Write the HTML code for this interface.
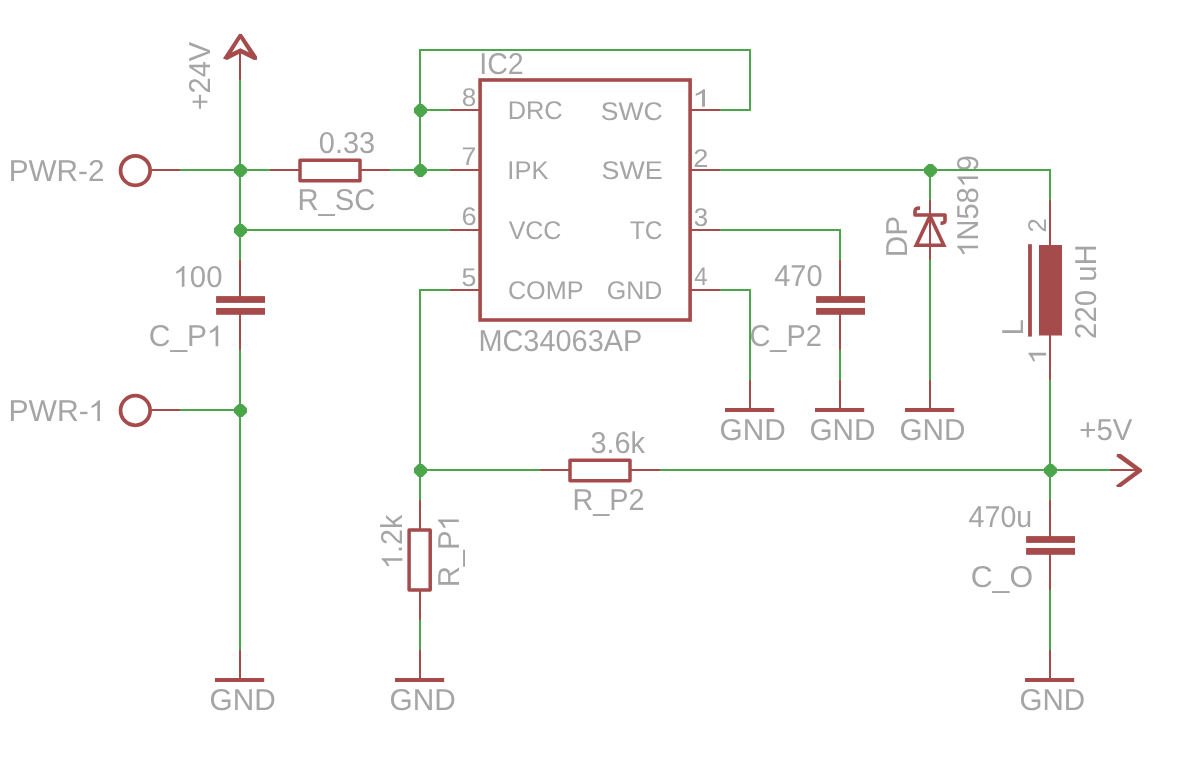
<!DOCTYPE html>
<html><head><meta charset="utf-8"><style>
html,body{margin:0;padding:0;background:#fff;width:1203px;height:771px;overflow:hidden}
svg{display:block;will-change:transform}
text{font-family:"Liberation Sans",sans-serif;fill:#A5A5A5;text-rendering:geometricPrecision}
</style></head><body>
<svg width="1203" height="771" viewBox="0 0 1203 771">
<rect width="1203" height="771" fill="#fff"/>
<text id="t_PWR_2" x="104.53" y="181.15" font-size="30.2" text-anchor="end" textLength="95.83" lengthAdjust="spacingAndGlyphs">PWR-2</text>
<text id="t_PWR_1" x="105.52" y="421.05" font-size="30.2" text-anchor="end" textLength="97.11" lengthAdjust="spacingAndGlyphs">PWR- </text>
<path d="M763,0 L583,0 L583,1147 Q518,1085 412,1023 Q306,961 193,911 L193,1085 Q356,1162 478,1270 Q600,1378 659,1466 L763,1466 Z" transform="translate(88.737 421.05) scale(0.01473 -0.01417)" fill="#A5A5A5"/>
<text id="t_0_33" x="375.21" y="152.68" font-size="30.2" text-anchor="end" textLength="56.38" lengthAdjust="spacingAndGlyphs">0.33</text>
<text id="t_R_SC" x="375.33" y="209.56" font-size="30.2" text-anchor="end" textLength="77.91" lengthAdjust="spacingAndGlyphs">R_SC</text>
<text id="t_IC2" x="479.24" y="73.70" font-size="30.2" text-anchor="start" textLength="44.50" lengthAdjust="spacingAndGlyphs">IC2</text>
<text id="t_MC" x="478.38" y="350.86" font-size="30.2" text-anchor="start" textLength="163.90" lengthAdjust="spacingAndGlyphs">MC34063AP</text>
<text id="t_DRC" x="507.67" y="118.77" font-size="25.6" text-anchor="start" textLength="55.05" lengthAdjust="spacingAndGlyphs">DRC</text>
<text id="t_IPK" x="507.37" y="179.11" font-size="25.6" text-anchor="start" textLength="41.08" lengthAdjust="spacingAndGlyphs">IPK</text>
<text id="t_VCC" x="508.64" y="238.89" font-size="25.6" text-anchor="start" textLength="52.78" lengthAdjust="spacingAndGlyphs">VCC</text>
<text id="t_COMP" x="507.90" y="299.04" font-size="25.6" text-anchor="start" textLength="75.56" lengthAdjust="spacingAndGlyphs">COMP</text>
<text id="t_SWC" x="662.80" y="119.70" font-size="25.6" text-anchor="end" textLength="61.99" lengthAdjust="spacingAndGlyphs">SWC</text>
<text id="t_SWE" x="662.58" y="179.35" font-size="25.6" text-anchor="end" textLength="61.08" lengthAdjust="spacingAndGlyphs">SWE</text>
<text id="t_TC" x="662.45" y="238.87" font-size="25.6" text-anchor="end" textLength="32.49" lengthAdjust="spacingAndGlyphs">TC</text>
<text id="t_GNDic" x="662.40" y="298.99" font-size="25.6" text-anchor="end" textLength="55.66" lengthAdjust="spacingAndGlyphs">GND</text>
<text id="t_p8" x="476.28" y="106.17" font-size="25.6" text-anchor="end" textLength="14.55" lengthAdjust="spacingAndGlyphs">8</text>
<text id="t_p7" x="476.36" y="165.49" font-size="25.6" text-anchor="end" textLength="14.80" lengthAdjust="spacingAndGlyphs">7</text>
<text id="t_p6" x="476.64" y="225.41" font-size="25.6" text-anchor="end" textLength="15.18" lengthAdjust="spacingAndGlyphs">6</text>
<text id="t_p5" x="476.55" y="285.93" font-size="25.6" text-anchor="end" textLength="14.93" lengthAdjust="spacingAndGlyphs">5</text>
<text id="t_p1" x="692.54" y="106.79" font-size="25.6" text-anchor="start" textLength="18.60" lengthAdjust="spacingAndGlyphs"> </text>
<path d="M763,0 L583,0 L583,1147 Q518,1085 412,1023 Q306,961 193,911 L193,1085 Q356,1162 478,1270 Q600,1378 659,1466 L763,1466 Z" transform="translate(692.540 106.79) scale(0.01633 -0.01201)" fill="#A5A5A5"/>
<text id="t_p2" x="693.39" y="166.79" font-size="25.6" text-anchor="start" textLength="15.14" lengthAdjust="spacingAndGlyphs">2</text>
<text id="t_p3" x="693.83" y="226.05" font-size="25.6" text-anchor="start" textLength="14.38" lengthAdjust="spacingAndGlyphs">3</text>
<text id="t_p4" x="694.31" y="285.47" font-size="25.6" text-anchor="start" textLength="13.27" lengthAdjust="spacingAndGlyphs">4</text>
<text id="t_G750" x="719.55" y="440.40" font-size="30.2" text-anchor="start" textLength="66.16" lengthAdjust="spacingAndGlyphs">GND</text>
<text id="t_G840" x="809.48" y="440.41" font-size="30.2" text-anchor="start" textLength="66.02" lengthAdjust="spacingAndGlyphs">GND</text>
<text id="t_G930" x="899.48" y="440.41" font-size="30.2" text-anchor="start" textLength="66.02" lengthAdjust="spacingAndGlyphs">GND</text>
<text id="t_G240" x="209.57" y="710.40" font-size="30.2" text-anchor="start" textLength="66.20" lengthAdjust="spacingAndGlyphs">GND</text>
<text id="t_G420" x="389.57" y="710.40" font-size="30.2" text-anchor="start" textLength="66.20" lengthAdjust="spacingAndGlyphs">GND</text>
<text id="t_G1050" x="1019.49" y="710.41" font-size="30.2" text-anchor="start" textLength="65.65" lengthAdjust="spacingAndGlyphs">GND</text>
<text id="t__5V" x="1079.30" y="439.99" font-size="30.2" text-anchor="start" textLength="53.05" lengthAdjust="spacingAndGlyphs">+5V</text>
<text id="t_100" x="222.47" y="286.77" font-size="30.2" text-anchor="end" textLength="49.00" lengthAdjust="spacingAndGlyphs"> 00</text>
<path d="M763,0 L583,0 L583,1147 Q518,1085 412,1023 Q306,961 193,911 L193,1085 Q356,1162 478,1270 Q600,1378 659,1466 L763,1466 Z" transform="translate(173.470 286.77) scale(0.01434 -0.01417)" fill="#A5A5A5"/>
<text id="t_C_P1" x="223.75" y="346.30" font-size="30.2" text-anchor="end" textLength="74.93" lengthAdjust="spacingAndGlyphs">C_P </text>
<path d="M763,0 L583,0 L583,1147 Q518,1085 412,1023 Q306,961 193,911 L193,1085 Q356,1162 478,1270 Q600,1378 659,1466 L763,1466 Z" transform="translate(207.083 346.30) scale(0.01463 -0.01417)" fill="#A5A5A5"/>
<text id="t_470" x="822.53" y="285.62" font-size="30.2" text-anchor="end" textLength="48.24" lengthAdjust="spacingAndGlyphs">470</text>
<text id="t_C_P2" x="821.91" y="346.28" font-size="30.2" text-anchor="end" textLength="72.47" lengthAdjust="spacingAndGlyphs">C_P2</text>
<text id="t_470u" x="1032.19" y="527.48" font-size="30.2" text-anchor="end" textLength="63.61" lengthAdjust="spacingAndGlyphs">470u</text>
<text id="t_C_O" x="1033.14" y="586.57" font-size="30.2" text-anchor="end" textLength="62.46" lengthAdjust="spacingAndGlyphs">C_O</text>
<text id="t_3_6k" x="644.95" y="453.39" font-size="30.2" text-anchor="end" textLength="54.55" lengthAdjust="spacingAndGlyphs">3.6k</text>
<text id="t_R_P2" x="644.47" y="509.74" font-size="30.2" text-anchor="end" textLength="71.95" lengthAdjust="spacingAndGlyphs">R_P2</text>
<text id="t_1_2k" x="402.42" y="568.81" font-size="30.2" text-anchor="start" transform="rotate(-90 402.42 568.81)" textLength="54.15" lengthAdjust="spacingAndGlyphs"> .2k</text>
<g transform="rotate(-90 402.42 568.81)"><path d="M763,0 L583,0 L583,1147 Q518,1085 412,1023 Q306,961 193,911 L193,1085 Q356,1162 478,1270 Q600,1378 659,1466 L763,1466 Z" transform="translate(402.420 568.81) scale(0.01399 -0.01417)" fill="#A5A5A5"/></g>
<text id="t_R_P1" x="458.79" y="587.33" font-size="30.2" text-anchor="start" transform="rotate(-90 458.79 587.33)" textLength="73.23" lengthAdjust="spacingAndGlyphs">R_P </text>
<g transform="rotate(-90 458.79 587.33)"><path d="M763,0 L583,0 L583,1147 Q518,1085 412,1023 Q306,961 193,911 L193,1085 Q356,1162 478,1270 Q600,1378 659,1466 L763,1466 Z" transform="translate(515.732 587.33) scale(0.01430 -0.01417)" fill="#A5A5A5"/></g>
<text id="t_DP" x="906.70" y="257.23" font-size="30.2" text-anchor="start" transform="rotate(-90 906.70 257.23)" textLength="41.12" lengthAdjust="spacingAndGlyphs">DP</text>
<text id="t_1N5819" x="978.05" y="256.62" font-size="30.2" text-anchor="start" transform="rotate(-90 978.05 256.62)" textLength="101.60" lengthAdjust="spacingAndGlyphs"> N58 9</text>
<g transform="rotate(-90 978.05 256.62)"><path d="M763,0 L583,0 L583,1147 Q518,1085 412,1023 Q306,961 193,911 L193,1085 Q356,1162 478,1270 Q600,1378 659,1466 L763,1466 Z" transform="translate(978.050 256.62) scale(0.01417 -0.01417)" fill="#A5A5A5"/></g>
<g transform="rotate(-90 978.05 256.62)"><path d="M763,0 L583,0 L583,1147 Q518,1085 412,1023 Q306,961 193,911 L193,1085 Q356,1162 478,1270 Q600,1378 659,1466 L763,1466 Z" transform="translate(1047.375 256.62) scale(0.01418 -0.01417)" fill="#A5A5A5"/></g>
<text id="t_L" x="1022.90" y="335.50" font-size="30.2" text-anchor="start" transform="rotate(-90 1022.90 335.50)" textLength="16.36" lengthAdjust="spacingAndGlyphs">L</text>
<text id="t_220uH" x="1095.83" y="338.93" font-size="30.2" text-anchor="start" transform="rotate(-90 1095.83 338.93)" textLength="94.63" lengthAdjust="spacingAndGlyphs">220 uH</text>
<text id="t_i2" x="1046.34" y="232.60" font-size="25.6" text-anchor="start" transform="rotate(-90 1046.34 232.60)" textLength="14.36" lengthAdjust="spacingAndGlyphs">2</text>
<text id="t_i1" x="1046.11" y="363.95" font-size="25.6" text-anchor="start" transform="rotate(-90 1046.11 363.95)" textLength="16.60" lengthAdjust="spacingAndGlyphs"> </text>
<g transform="rotate(-90 1046.11 363.95)"><path d="M763,0 L583,0 L583,1147 Q518,1085 412,1023 Q306,961 193,911 L193,1085 Q356,1162 478,1270 Q600,1378 659,1466 L763,1466 Z" transform="translate(1046.110 363.95) scale(0.01457 -0.01201)" fill="#A5A5A5"/></g>
<text id="t__24V" x="210.50" y="110.29" font-size="30.2" text-anchor="start" transform="rotate(-90 210.50 110.29)" textLength="68.45" lengthAdjust="spacingAndGlyphs">+24V</text>
<line x1="240" y1="80" x2="240" y2="260" stroke="#4BA54B" stroke-width="2.0" stroke-linecap="butt"/>
<line x1="240" y1="350" x2="240" y2="650" stroke="#4BA54B" stroke-width="2.0" stroke-linecap="butt"/>
<line x1="180" y1="170" x2="270" y2="170" stroke="#4BA54B" stroke-width="2.0" stroke-linecap="butt"/>
<line x1="390" y1="170" x2="450" y2="170" stroke="#4BA54B" stroke-width="2.0" stroke-linecap="butt"/>
<line x1="240" y1="230" x2="450" y2="230" stroke="#4BA54B" stroke-width="2.0" stroke-linecap="butt"/>
<line x1="180" y1="410" x2="240" y2="410" stroke="#4BA54B" stroke-width="2.0" stroke-linecap="butt"/>
<line x1="420" y1="49" x2="420" y2="170" stroke="#4BA54B" stroke-width="2.0" stroke-linecap="butt"/>
<line x1="419" y1="50" x2="751" y2="50" stroke="#4BA54B" stroke-width="2.0" stroke-linecap="butt"/>
<line x1="750" y1="49" x2="750" y2="111" stroke="#4BA54B" stroke-width="2.0" stroke-linecap="butt"/>
<line x1="720" y1="110" x2="751" y2="110" stroke="#4BA54B" stroke-width="2.0" stroke-linecap="butt"/>
<line x1="420" y1="110" x2="450" y2="110" stroke="#4BA54B" stroke-width="2.0" stroke-linecap="butt"/>
<line x1="419" y1="290" x2="450" y2="290" stroke="#4BA54B" stroke-width="2.0" stroke-linecap="butt"/>
<line x1="420" y1="289" x2="420" y2="500" stroke="#4BA54B" stroke-width="2.0" stroke-linecap="butt"/>
<line x1="420" y1="620" x2="420" y2="650" stroke="#4BA54B" stroke-width="2.0" stroke-linecap="butt"/>
<line x1="720" y1="230" x2="841" y2="230" stroke="#4BA54B" stroke-width="2.0" stroke-linecap="butt"/>
<line x1="840" y1="229" x2="840" y2="260" stroke="#4BA54B" stroke-width="2.0" stroke-linecap="butt"/>
<line x1="840" y1="350" x2="840" y2="380" stroke="#4BA54B" stroke-width="2.0" stroke-linecap="butt"/>
<line x1="720" y1="290" x2="751" y2="290" stroke="#4BA54B" stroke-width="2.0" stroke-linecap="butt"/>
<line x1="750" y1="289" x2="750" y2="380" stroke="#4BA54B" stroke-width="2.0" stroke-linecap="butt"/>
<line x1="720" y1="170" x2="1051" y2="170" stroke="#4BA54B" stroke-width="2.0" stroke-linecap="butt"/>
<line x1="1050" y1="169" x2="1050" y2="200" stroke="#4BA54B" stroke-width="2.0" stroke-linecap="butt"/>
<line x1="1050" y1="380" x2="1050" y2="500" stroke="#4BA54B" stroke-width="2.0" stroke-linecap="butt"/>
<line x1="1050" y1="590" x2="1050" y2="650" stroke="#4BA54B" stroke-width="2.0" stroke-linecap="butt"/>
<line x1="930" y1="170" x2="930" y2="200" stroke="#4BA54B" stroke-width="2.0" stroke-linecap="butt"/>
<line x1="930" y1="260" x2="930" y2="380" stroke="#4BA54B" stroke-width="2.0" stroke-linecap="butt"/>
<line x1="420" y1="470" x2="540" y2="470" stroke="#4BA54B" stroke-width="2.0" stroke-linecap="butt"/>
<line x1="660" y1="470" x2="1110" y2="470" stroke="#4BA54B" stroke-width="2.0" stroke-linecap="butt"/>
<line x1="240" y1="52" x2="240" y2="80" stroke="#A54B4B" stroke-width="2.0" stroke-linecap="butt"/>
<line x1="152" y1="170" x2="180" y2="170" stroke="#A54B4B" stroke-width="2.0" stroke-linecap="butt"/>
<line x1="270" y1="170" x2="300" y2="170" stroke="#A54B4B" stroke-width="2.0" stroke-linecap="butt"/>
<line x1="360" y1="170" x2="390" y2="170" stroke="#A54B4B" stroke-width="2.0" stroke-linecap="butt"/>
<line x1="450" y1="170" x2="480" y2="170" stroke="#A54B4B" stroke-width="2.0" stroke-linecap="butt"/>
<line x1="152" y1="410" x2="180" y2="410" stroke="#A54B4B" stroke-width="2.0" stroke-linecap="butt"/>
<line x1="450" y1="110" x2="480" y2="110" stroke="#A54B4B" stroke-width="2.0" stroke-linecap="butt"/>
<line x1="450" y1="230" x2="480" y2="230" stroke="#A54B4B" stroke-width="2.0" stroke-linecap="butt"/>
<line x1="450" y1="290" x2="480" y2="290" stroke="#A54B4B" stroke-width="2.0" stroke-linecap="butt"/>
<line x1="690" y1="110" x2="720" y2="110" stroke="#A54B4B" stroke-width="2.0" stroke-linecap="butt"/>
<line x1="690" y1="170" x2="720" y2="170" stroke="#A54B4B" stroke-width="2.0" stroke-linecap="butt"/>
<line x1="690" y1="230" x2="720" y2="230" stroke="#A54B4B" stroke-width="2.0" stroke-linecap="butt"/>
<line x1="690" y1="290" x2="720" y2="290" stroke="#A54B4B" stroke-width="2.0" stroke-linecap="butt"/>
<line x1="240" y1="260" x2="240" y2="297" stroke="#A54B4B" stroke-width="2.0" stroke-linecap="butt"/>
<line x1="240" y1="314" x2="240" y2="350" stroke="#A54B4B" stroke-width="2.0" stroke-linecap="butt"/>
<line x1="840" y1="260" x2="840" y2="297" stroke="#A54B4B" stroke-width="2.0" stroke-linecap="butt"/>
<line x1="840" y1="314" x2="840" y2="350" stroke="#A54B4B" stroke-width="2.0" stroke-linecap="butt"/>
<line x1="1050" y1="500" x2="1050" y2="537" stroke="#A54B4B" stroke-width="2.0" stroke-linecap="butt"/>
<line x1="1050" y1="554" x2="1050" y2="590" stroke="#A54B4B" stroke-width="2.0" stroke-linecap="butt"/>
<line x1="750" y1="380" x2="750" y2="410" stroke="#A54B4B" stroke-width="2.0" stroke-linecap="butt"/>
<line x1="840" y1="380" x2="840" y2="410" stroke="#A54B4B" stroke-width="2.0" stroke-linecap="butt"/>
<line x1="930" y1="380" x2="930" y2="410" stroke="#A54B4B" stroke-width="2.0" stroke-linecap="butt"/>
<line x1="240" y1="650" x2="240" y2="680" stroke="#A54B4B" stroke-width="2.0" stroke-linecap="butt"/>
<line x1="420" y1="650" x2="420" y2="680" stroke="#A54B4B" stroke-width="2.0" stroke-linecap="butt"/>
<line x1="1050" y1="650" x2="1050" y2="680" stroke="#A54B4B" stroke-width="2.0" stroke-linecap="butt"/>
<line x1="420" y1="500" x2="420" y2="530" stroke="#A54B4B" stroke-width="2.0" stroke-linecap="butt"/>
<line x1="420" y1="590" x2="420" y2="620" stroke="#A54B4B" stroke-width="2.0" stroke-linecap="butt"/>
<line x1="540" y1="470" x2="570" y2="470" stroke="#A54B4B" stroke-width="2.0" stroke-linecap="butt"/>
<line x1="630" y1="470" x2="660" y2="470" stroke="#A54B4B" stroke-width="2.0" stroke-linecap="butt"/>
<line x1="930" y1="200" x2="930" y2="260" stroke="#A54B4B" stroke-width="2.0" stroke-linecap="butt"/>
<line x1="1050" y1="200" x2="1050" y2="245" stroke="#A54B4B" stroke-width="2.0" stroke-linecap="butt"/>
<line x1="1050" y1="335" x2="1050" y2="380" stroke="#A54B4B" stroke-width="2.0" stroke-linecap="butt"/>
<line x1="1110" y1="470" x2="1136" y2="470" stroke="#A54B4B" stroke-width="2.0" stroke-linecap="butt"/>
<rect x="480.1" y="80" width="210" height="240" fill="none" stroke="#A54B4B" stroke-width="3.6" stroke-linejoin="miter"/>
<rect x="300" y="160.3" width="60" height="20.5" fill="none" stroke="#A54B4B" stroke-width="3.5" stroke-linejoin="round"/>
<rect x="570" y="460.3" width="60" height="20.5" fill="none" stroke="#A54B4B" stroke-width="3.5" stroke-linejoin="round"/>
<rect x="409.1" y="530" width="21.1" height="60" fill="none" stroke="#A54B4B" stroke-width="3.5" stroke-linejoin="round"/>
<rect x="216.1" y="296.1" width="48.9" height="6.8" fill="#A54B4B"/>
<rect x="216.1" y="308.0" width="48.9" height="6.8" fill="#A54B4B"/>
<rect x="816.1" y="296.1" width="48.9" height="6.8" fill="#A54B4B"/>
<rect x="816.1" y="308.0" width="48.9" height="6.8" fill="#A54B4B"/>
<rect x="1026.1" y="536.1" width="48.9" height="6.8" fill="#A54B4B"/>
<rect x="1026.1" y="548.0" width="48.9" height="6.8" fill="#A54B4B"/>
<line x1="725" y1="410" x2="774.2" y2="410" stroke="#A54B4B" stroke-width="3.8" stroke-linecap="butt"/>
<line x1="815" y1="410" x2="864.2" y2="410" stroke="#A54B4B" stroke-width="3.8" stroke-linecap="butt"/>
<line x1="905" y1="410" x2="954.2" y2="410" stroke="#A54B4B" stroke-width="3.8" stroke-linecap="butt"/>
<line x1="215" y1="680" x2="264.2" y2="680" stroke="#A54B4B" stroke-width="3.8" stroke-linecap="butt"/>
<line x1="395" y1="680" x2="444.2" y2="680" stroke="#A54B4B" stroke-width="3.8" stroke-linecap="butt"/>
<line x1="1025" y1="680" x2="1074.2" y2="680" stroke="#A54B4B" stroke-width="3.8" stroke-linecap="butt"/>
<circle cx="135.35" cy="170.55" r="14.8" fill="none" stroke="#A54B4B" stroke-width="3.75"/>
<circle cx="135.35" cy="410.45" r="14.8" fill="none" stroke="#A54B4B" stroke-width="3.75"/>
<polygon points="916.2,245.3 943.8,245.3 930,216" fill="none" stroke="#A54B4B" stroke-width="3.6" stroke-linejoin="miter" stroke-miterlimit="3"/>
<path d="M920,208.2 Q915.2,207.6 915,211 L915,215 L945,215 L945,221 Q945,223.3 940.5,223.2" fill="none" stroke="#A54B4B" stroke-width="3.6" stroke-linejoin="round"/>
<rect x="1039" y="245" width="23" height="90.5" fill="#A54B4B"/>
<line x1="1030" y1="244.2" x2="1030" y2="336.6" stroke="#A54B4B" stroke-width="3.8" stroke-linecap="butt"/>
<path d="M239,34 L241.8,34 L257,56.5 L257,59.7 L254,60 L240.4,53.2 L227,60 L223,58.6 Z M240.4,38.9 L232,52.2 L240.4,48.2 L248.8,52.2 Z" fill="#A54B4B" fill-rule="evenodd"/>
<path d="M1117,454 L1121,454 L1142,469.5 L1142,471.5 L1121,487 L1117,487 L1116,485.5 L1136,470.5 L1116.5,456.5 Z" fill="#A54B4B"/>
<polygon points="238.35,163.90 242.55,163.90 246.95,168.30 246.95,172.50 242.55,176.90 238.35,176.90 233.95,172.50 233.95,168.30" fill="#4BA54B"/>
<polygon points="238.35,223.90 242.55,223.90 246.95,228.30 246.95,232.50 242.55,236.90 238.35,236.90 233.95,232.50 233.95,228.30" fill="#4BA54B"/>
<polygon points="238.35,403.90 242.55,403.90 246.95,408.30 246.95,412.50 242.55,416.90 238.35,416.90 233.95,412.50 233.95,408.30" fill="#4BA54B"/>
<polygon points="418.35,103.90 422.55,103.90 426.95,108.30 426.95,112.50 422.55,116.90 418.35,116.90 413.95,112.50 413.95,108.30" fill="#4BA54B"/>
<polygon points="418.35,163.90 422.55,163.90 426.95,168.30 426.95,172.50 422.55,176.90 418.35,176.90 413.95,172.50 413.95,168.30" fill="#4BA54B"/>
<polygon points="418.35,463.90 422.55,463.90 426.95,468.30 426.95,472.50 422.55,476.90 418.35,476.90 413.95,472.50 413.95,468.30" fill="#4BA54B"/>
<polygon points="928.35,163.90 932.55,163.90 936.95,168.30 936.95,172.50 932.55,176.90 928.35,176.90 923.95,172.50 923.95,168.30" fill="#4BA54B"/>
<polygon points="1048.35,463.90 1052.55,463.90 1056.95,468.30 1056.95,472.50 1052.55,476.90 1048.35,476.90 1043.95,472.50 1043.95,468.30" fill="#4BA54B"/>
</svg>
</body></html>
